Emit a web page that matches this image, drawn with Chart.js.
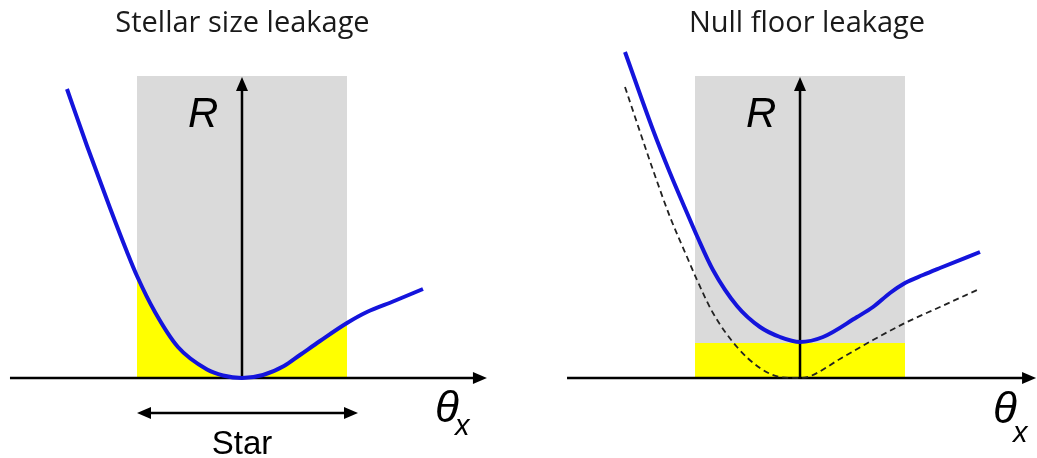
<!DOCTYPE html>
<html>
<head>
<meta charset="utf-8">
<script src="https://cdn.jsdelivr.net/npm/chart.js@4.4.1/dist/chart.umd.min.js"></script>
<style>
  html, body { margin: 0; padding: 0; background: #fff; }
  #wrap { position: relative; width: 1037px; height: 458px; }
  .panel { position: absolute; top: 0; height: 458px; }
</style>
</head>
<body>
<div id="wrap">
  <div class="panel" style="left:0;width:518px"><canvas id="left" width="518" height="458"></canvas></div>
  <div class="panel" style="left:518px;width:519px"><canvas id="right" width="519" height="458"></canvas></div>
</div>
<script>
// theta in units of the stellar radius, R in arbitrary leakage units
const starEdges = [-1, 1];
const screenTop = 3.02;
const nullFloor = 0.35;

// left panel: stellar size leakage
const stellarTheta = [-1.667, -1.476, -1.257, -1.095, -1.0, -0.829, -0.61, -0.333, -0.181, 0, 0.2, 0.4, 0.552, 0.743, 1.0, 1.19, 1.45, 1.724];
const stellarR     = [2.89, 2.32, 1.70, 1.26, 1.02, 0.66, 0.31, 0.085, 0.025, 0, 0.03, 0.12, 0.23, 0.37, 0.55, 0.66, 0.77, 0.89];

// right panel: null floor leakage (blue) and intrinsic response (dashed)
const nullTheta = [-1.667, -1.40, -1.238, -1.076, -0.981, -0.829, -0.6, -0.381, -0.19, 0, 0.219, 0.543, 0.695, 0.857, 1.0, 1.171, 1.333, 1.714];
const nullR     = [3.26, 2.48, 2.05, 1.65, 1.42, 1.08, 0.72, 0.51, 0.41, 0.36, 0.41, 0.61, 0.71, 0.85, 0.95, 1.03, 1.10, 1.26];
const intrinsicTheta = [-1.667, -1.40, -1.238, -1.076, -0.981, -0.829, -0.6, -0.381, -0.19, 0, 0.1, 0.38, 0.695, 1.0, 1.333, 1.686];
const intrinsicR     = [2.91, 2.08, 1.61, 1.21, 0.98, 0.65, 0.31, 0.10, 0.01, 0, 0.02, 0.19, 0.38, 0.55, 0.71, 0.88];

const BLUE = '#1414dc';
const GRAY = '#dadada';
const YELLOW = '#ffff00';

function pts(xs, ys) {
  return xs.map((x, i) => ({ x: x, y: ys[i] }));
}

// arrow from (x0,y0) to (x1,y1) in data units, head at the end (and start if both)
function arrow(chart, x0, y0, x1, y1, both) {
  const sx = chart.scales.x, sy = chart.scales.y, ctx = chart.ctx;
  const a = { x: sx.getPixelForValue(x0), y: sy.getPixelForValue(y0) };
  const b = { x: sx.getPixelForValue(x1), y: sy.getPixelForValue(y1) };
  const ang = Math.atan2(b.y - a.y, b.x - a.x);
  const len = 14, half = 6;
  ctx.save();
  ctx.strokeStyle = '#000';
  ctx.fillStyle = '#000';
  ctx.lineWidth = 2.5;
  ctx.beginPath();
  ctx.moveTo(a.x + (both ? Math.cos(ang) * len * 0.8 : 0), a.y + (both ? Math.sin(ang) * len * 0.8 : 0));
  ctx.lineTo(b.x - Math.cos(ang) * len * 0.8, b.y - Math.sin(ang) * len * 0.8);
  ctx.stroke();
  const head = (p, t) => {
    ctx.beginPath();
    ctx.moveTo(p.x, p.y);
    ctx.lineTo(p.x - Math.cos(t) * len + Math.sin(t) * half, p.y - Math.sin(t) * len - Math.cos(t) * half);
    ctx.lineTo(p.x - Math.cos(t) * len - Math.sin(t) * half, p.y - Math.sin(t) * len + Math.cos(t) * half);
    ctx.closePath();
    ctx.fill();
  };
  head(b, ang);
  if (both) head(a, ang + Math.PI);
  ctx.restore();
}

const sketchPlugin = {
  id: 'sketch',
  afterDatasetDraw(chart, args, opts) {
    // axes go over the shaded regions but under the curves
    if (chart.data.datasets[args.index].label !== 'star') return;
    arrow(chart, opts.axisFrom, 0, opts.axisTo, 0, false);
    arrow(chart, 0, 0, 0, screenTop - 0.01, false);
    if (opts.starArrow) arrow(chart, opts.starArrow[0], -0.35, opts.starArrow[1], -0.35, true);
  },
  afterDraw(chart, args, opts) {
    const ctx = chart.ctx;
    ctx.save();
    ctx.fillStyle = '#1a1a1a';
    ctx.textBaseline = 'alphabetic';
    ctx.textAlign = 'center';
    ctx.font = '29px "Open Sans"';
    ctx.fillText(opts.title, opts.titleX, 32);
    ctx.fillStyle = '#000';
    ctx.textAlign = 'left';
    ctx.font = 'italic 42px "Liberation Sans"';
    ctx.fillText('R', opts.rX, 127);
    ctx.font = 'italic 44px "Liberation Sans"';
    ctx.fillText('\u03B8', opts.thetaX, opts.thetaY);
    ctx.font = 'italic 29px "Liberation Sans"';
    ctx.fillText('x', opts.thetaX + 20, opts.thetaY + 13 + opts.subDrop);
    if (opts.starLabel) {
      ctx.textAlign = 'center';
      ctx.font = '33px "Liberation Sans"';
      ctx.fillText(opts.starLabel, opts.starX, 454);
    }
    ctx.restore();
  }
};

function makeChart(id, datasets, xMin, xMax, sketch) {
  return new Chart(document.getElementById(id), {
    type: 'line',
    data: { datasets: datasets },
    options: {
      responsive: false,
      animation: false,
      events: [],
      layout: { padding: 0 },
      elements: { point: { radius: 0 }, line: { cubicInterpolationMode: 'monotone' } },
      scales: {
        x: { type: 'linear', display: false, min: xMin, max: xMax },
        y: { type: 'linear', display: false, min: -0.8, max: 3.78 }
      },
      plugins: {
        legend: { display: false },
        tooltip: { enabled: false },
        sketch: sketch
      }
    },
    plugins: [sketchPlugin]
  });
}

const screenBox = [{ x: starEdges[0], y: screenTop }, { x: starEdges[1], y: screenTop }];

// left: stellar size leakage, yellow = curve inside the stellar disk
const stellarPts = pts(stellarTheta, stellarR);
makeChart('left', [
  { label: 'R', data: stellarPts, borderColor: BLUE, borderWidth: 4, fill: false },
  { label: 'star', data: stellarPts.filter(p => p.x >= starEdges[0] && p.x <= starEdges[1]), borderWidth: 0, borderColor: 'rgba(0,0,0,0)', backgroundColor: YELLOW, fill: 'origin' },
  { label: 'screen', data: screenBox, borderWidth: 0, borderColor: 'rgba(0,0,0,0)', backgroundColor: GRAY, fill: 'origin' }
], -2.305, 2.629, {
  title: 'Stellar size leakage', titleX: 242.5,
  axisFrom: -2.21, axisTo: 2.333,
  starArrow: [-1.0, 1.105], starLabel: 'Star', starX: 242,
  rX: 188, thetaX: 435, thetaY: 422, subDrop: 0
});

// right: null floor leakage, yellow = constant floor
makeChart('right', [
  { label: 'R', data: pts(nullTheta, nullR), borderColor: BLUE, borderWidth: 4, fill: false },
  { label: 'intrinsic', data: pts(intrinsicTheta, intrinsicR), borderColor: '#222', borderWidth: 1.8, borderDash: [6, 4], fill: false },
  { label: 'star', data: [{ x: starEdges[0], y: nullFloor }, { x: starEdges[1], y: nullFloor }], borderWidth: 0, borderColor: 'rgba(0,0,0,0)', backgroundColor: YELLOW, fill: 'origin' },
  { label: 'screen', data: screenBox, borderWidth: 0, borderColor: 'rgba(0,0,0,0)', backgroundColor: GRAY, fill: 'origin' }
], -2.686, 2.257, {
  title: 'Null floor leakage', titleX: 289,
  axisFrom: -2.219, axisTo: 2.248,
  starArrow: null, starLabel: null,
  rX: 228, thetaX: 475, thetaY: 423, subDrop: 6
});
</script>
</body>
</html>
